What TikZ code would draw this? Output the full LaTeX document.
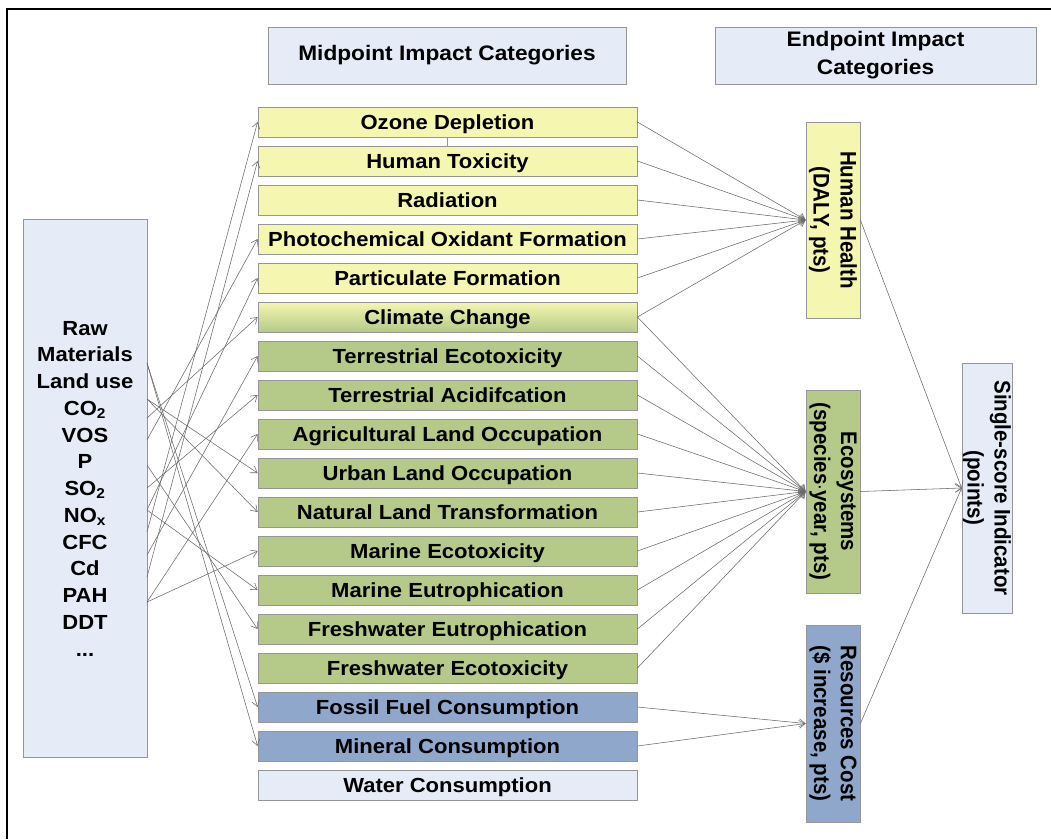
\documentclass[tikz,border=0pt]{standalone}
\usepackage{fontspec}
\setmainfont{Liberation Sans}[FakeStretch=1.08]
\newfontfamily\upright{Liberation Sans}
\usetikzlibrary{arrows.meta}

\definecolor{yel}{RGB}{245,246,176}
\definecolor{grn}{RGB}{181,201,137}
\definecolor{blu}{RGB}{142,167,202}
\definecolor{pale}{RGB}{229,236,247}
\definecolor{edgegray}{RGB}{150,150,150}
\definecolor{wire}{RGB}{105,105,105}

\begin{document}
\begin{tikzpicture}[x=1pt,y=1pt,
  midbox/.style={draw=edgegray, line width=0.8pt, minimum width=379pt, minimum height=30pt,
    inner sep=0pt, text height=14.6pt, text depth=0pt, font=\fontsize{20.4}{24}\selectfont\bfseries},
  hdrbox/.style={draw=edgegray, line width=0.8pt, fill=pale, minimum height=57pt, inner sep=0pt,
    align=center, font=\fontsize{21}{28}\selectfont\bfseries},
  endbox/.style={draw=edgegray, line width=0.8pt, minimum width=54pt, inner sep=0pt},
  vtext/.style={rotate=-90, yscale=1.1, align=center, inner sep=0pt,
    font=\upright\fontsize{20.5}{24.5}\selectfont\bfseries},
  wirearrow/.style={draw=wire, line width=0.55pt, -{Straight Barb[length=6pt,width=8pt]}}
]
\useasboundingbox (0,0) rectangle (1051,-839);

% outer frame (only the top and left edges are inside the page)
\draw[line width=2.4pt] (7,-839) -- (7,-9) -- (1051,-9);

% column headers
\node[hdrbox, minimum width=358pt] (midhdr) at (447,-55.5) {Midpoint Impact Categories};
\node[hdrbox, minimum width=321pt] (endhdr) at (875.5,-55.5) {Endpoint Impact\\Categories};

% inventory box
\node[draw=edgegray, line width=0.8pt, fill=pale, minimum width=124pt, minimum height=538pt, inner sep=0pt]
  (inv) at (85,-488) {};
\node[align=center, inner sep=0pt, font=\fontsize{20.4}{26.75}\selectfont\bfseries] (invtext) at (85,-488.5) {Raw\\Materials\\Land use\\CO\textsubscript{2}\\VOS\\P\\SO\textsubscript{2}\\NO\textsubscript{x}\\CFC\\Cd\\PAH\\DDT\\...};

% midpoint categories
\node[midbox, fill=yel] (oz)  at (447.5,-122) {Ozone Depletion};
\node[midbox, fill=yel] (ht)  at (447.5,-161) {Human Toxicity};
\node[midbox, fill=yel] (rad) at (447.5,-200) {Radiation};
\node[midbox, fill=yel] (pof) at (447.5,-239) {Photochemical Oxidant Formation};
\node[midbox, fill=yel] (pm)  at (447.5,-278) {Particulate Formation};
\node[midbox, top color=yel, bottom color=grn] (cc) at (447.5,-317) {Climate Change};
\node[midbox, fill=grn] (te)  at (447.5,-356) {Terrestrial Ecotoxicity};
\node[midbox, fill=grn] (ta)  at (447.5,-395) {Terrestrial Acidifcation};
\node[midbox, fill=grn] (alo) at (447.5,-434) {Agricultural Land Occupation};
\node[midbox, fill=grn] (ulo) at (447.5,-473) {Urban Land Occupation};
\node[midbox, fill=grn] (nlt) at (447.5,-512) {Natural Land Transformation};
\node[midbox, fill=grn] (me)  at (447.5,-551) {Marine Ecotoxicity};
\node[midbox, fill=grn] (meu) at (447.5,-590) {Marine Eutrophication};
\node[midbox, fill=grn] (fe)  at (447.5,-629) {Freshwater Eutrophication};
\node[midbox, fill=grn] (fet) at (447.5,-668) {Freshwater Ecotoxicity};
\node[midbox, fill=blu] (ff)  at (447.5,-707) {Fossil Fuel Consumption};
\node[midbox, fill=blu] (mc)  at (447.5,-746) {Mineral Consumption};
\node[midbox, fill=pale] (wc) at (447.5,-785) {Water Consumption};

\draw[draw=edgegray, line width=0.6pt] (oz.south) -- (ht.north);

% endpoint categories
\node[endbox, fill=yel, minimum height=196pt] (hh) at (833,-220) {};
\node[vtext] (hhtext) at (hh.center) {Human Health\\(DALY, pts)};
\node[endbox, fill=grn, minimum height=203pt] (eco) at (833,-491.5) {};
\node[vtext] (ecotext) at (eco.center) {Ecosystems\\(species$\cdot$year, pts)};
\node[endbox, fill=blu, minimum height=197pt] (res) at (833,-723.5) {};
\node[vtext] (restext) at (res.center) {Resources Cost\\(\$ increase, pts)};

% single score
\node[draw=edgegray, line width=0.8pt, fill=pale, minimum width=50pt, minimum height=250pt, inner sep=0pt]
  (ss) at (987,-488) {};
\node[vtext] (sstext) at (ss.center) {Single-score Indicator\\(points)};

% emission attachment points on the inventory box
\coordinate (sA) at (147,-363);
\coordinate (sB) at (147,-399);
\coordinate (sC) at (147,-418);
\coordinate (sD) at (147,-440);
\coordinate (sE) at (147,-465);
\coordinate (sF) at (147,-488);
\coordinate (sG) at (147,-510);
\coordinate (sH) at (147,-532);
\coordinate (sI) at (147,-555);
\coordinate (sJ) at (147,-577);
\coordinate (sK) at (147,-602);

% inventory -> midpoint
\draw[wirearrow] (sA) -- (ff.west);
\draw[wirearrow] (sA) -- (mc.west);
\draw[wirearrow] (sB) -- (ulo.west);
\draw[wirearrow] (sB) -- (nlt.west);
\draw[wirearrow] (sC) -- (cc.west);
\draw[wirearrow] (sD) -- (pof.west);
\draw[wirearrow] (sE) -- (fe.west);
\draw[wirearrow] (sF) -- (ta.west);
\draw[wirearrow] (sG) -- (pm.west);
\draw[wirearrow] (sG) -- (meu.west);
\draw[wirearrow] (sH) -- (oz.west);
\draw[wirearrow] (sI) -- (te.west);
\draw[wirearrow] (sJ) -- (ht.west);
\draw[wirearrow] (sK) -- (alo.west);
\draw[wirearrow] (sK) -- (me.west);

% midpoint -> endpoint
\foreach \m in {oz,ht,rad,pof,pm,cc}
  \draw[wirearrow] (\m.east) -- (hh.west);
\foreach \m in {cc,te,ta,alo,ulo,nlt,me,meu,fe,fet}
  \draw[wirearrow] (\m.east) -- (eco.west);
\foreach \m in {ff,mc}
  \draw[wirearrow] (\m.east) -- (res.west);

% endpoint -> single score
\draw[wirearrow] (hh.east) -- (ss.west);
\draw[wirearrow] (eco.east) -- (ss.west);
\draw[wirearrow] (res.east) -- (ss.west);
\end{tikzpicture}
\end{document}
